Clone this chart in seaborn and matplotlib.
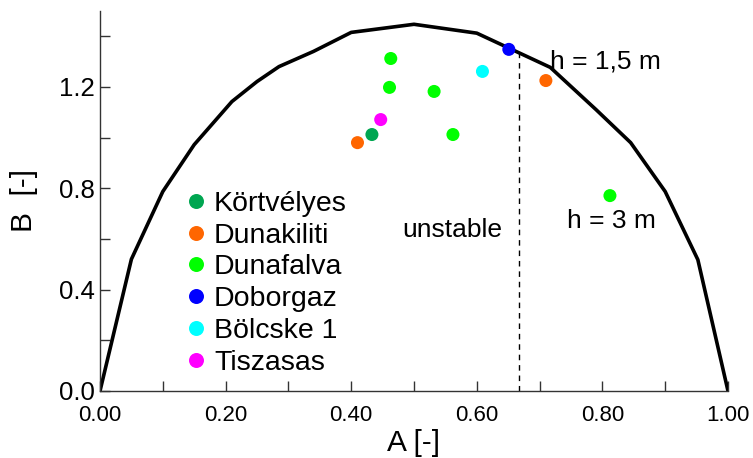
import matplotlib
matplotlib.use("Agg")
import matplotlib.pyplot as plt
import seaborn as sns
from pandas import DataFrame
from matplotlib.ticker import MultipleLocator, FormatStrFormatter

# Stability envelope
curve_a = [0.0, 0.05, 0.10, 0.15, 0.21, 0.25, 0.285, 0.34, 0.40, 0.50, 0.60, 0.717, 0.79, 0.845, 0.90, 0.952, 1.0]
curve_b = [0.0, 0.52, 0.787, 0.972, 1.142, 1.221, 1.28, 1.34, 1.415, 1.447, 1.412, 1.277, 1.11, 0.98, 0.787, 0.518, 0.0]

# Measured sites
sites = ["Körtvélyes", "Dunakiliti", "Dunakiliti", "Dunafalva", "Dunafalva", "Dunafalva",
         "Dunafalva", "Dunafalva", "Doborgaz", "Bölcske 1", "Tiszasas"]
site_a = [0.433, 0.410, 0.710, 0.463, 0.461, 0.532, 0.562, 0.812, 0.651, 0.609, 0.447]
site_b = [1.012, 0.980, 1.225, 1.312, 1.198, 1.182, 1.012, 0.771, 1.348, 1.261, 1.071]

site_order = ["Körtvélyes", "Dunakiliti", "Dunafalva", "Doborgaz", "Bölcske 1", "Tiszasas"]
site_colors = ["#00a651", "#ff6600", "#00ff00", "#0000ff", "#00ffff", "#ff00ff"]

a_limit = 2 / 3


def main():
    sns.set_style("ticks")
    plt.rcParams["font.family"] = ["Liberation Sans", "DejaVu Sans"]
    plt.rcParams["text.color"] = "black"
    plt.rcParams["axes.labelcolor"] = "black"

    fig = plt.figure(figsize=(7.53, 4.58), dpi=100)
    ax = fig.add_axes([0.1328, 0.1463, 0.834, 0.83])

    # Envelope curve
    env = DataFrame({"A": curve_a, "B": curve_b})
    sns.lineplot(data=env, x="A", y="B", sort=False, color="black", lw=2.6, ax=ax, legend=False)

    # Vertical dashed limit up to the envelope
    b_top = 1.337
    ax.plot([a_limit, a_limit], [0, b_top], ls=(0, (4, 3.5)), color="black", lw=1)

    # Measured points
    pts = DataFrame({"site": sites, "A": site_a, "B": site_b})
    sns.scatterplot(data=pts, x="A", y="B", hue="site", hue_order=site_order,
                    palette=dict(zip(site_order, site_colors)), s=88, edgecolor="none",
                    ax=ax, zorder=3)

    # Annotations
    ax.text(0.717, 1.30, "h = 1,5 m", fontsize=19, ha="left", va="center")
    ax.text(0.744, 0.672, "h = 3 m", fontsize=19, ha="left", va="center")
    ax.text(0.481, 0.635, "unstable", fontsize=19, ha="left", va="center")

    # Axes
    ax.set_xlim(0, 1.0)
    ax.set_ylim(0, 1.5)
    ax.xaxis.set_major_locator(MultipleLocator(0.2))
    ax.xaxis.set_minor_locator(MultipleLocator(0.1))
    ax.yaxis.set_major_locator(MultipleLocator(0.4))
    ax.yaxis.set_minor_locator(MultipleLocator(0.2))
    ax.xaxis.set_major_formatter(FormatStrFormatter("%.2f"))
    ax.yaxis.set_major_formatter(FormatStrFormatter("%.1f"))
    ax.tick_params(axis="both", which="both", direction="in", length=7, width=1,
                   color="#333333", labelcolor="black")
    ax.tick_params(axis="x", labelsize=16, pad=10)
    ax.tick_params(axis="y", labelsize=18.5, pad=4)
    ax.set_xlabel("A [-]", fontsize=21.5, labelpad=2)
    ax.set_ylabel("B  [-]", fontsize=21.5, labelpad=15)
    for side in ["top", "right"]:
        ax.spines[side].set_visible(False)
    for side in ["left", "bottom"]:
        ax.spines[side].set_linewidth(1)
        ax.spines[side].set_color("#333333")

    # Legend
    ax.legend(loc="upper left", bbox_to_anchor=(0.134, 0.526), frameon=False, fontsize=20.5,
              handlelength=0.8, handletextpad=0.25, labelspacing=0.2, borderpad=0,
              borderaxespad=0, markerscale=1.15)

    fig.savefig("out.png", dpi=100)


if __name__ == "__main__":
    main()
